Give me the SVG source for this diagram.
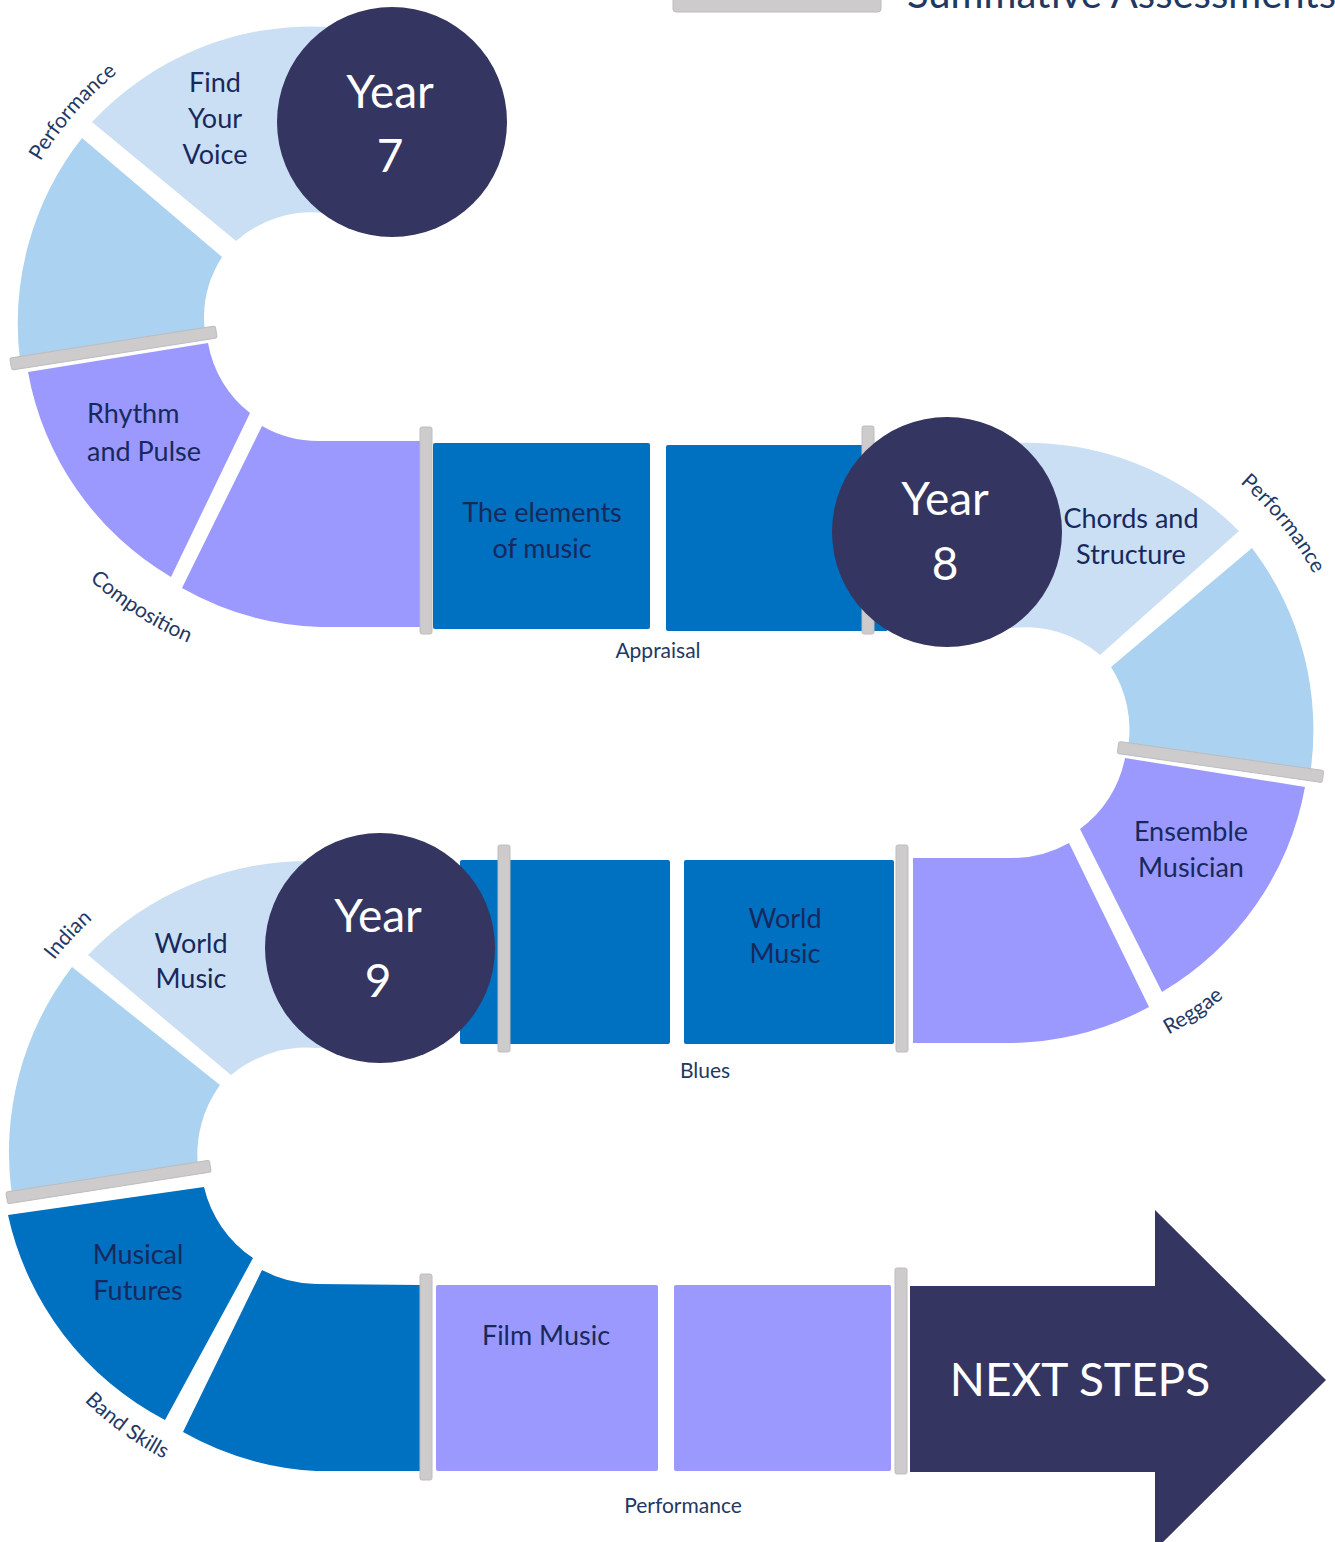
<svg xmlns="http://www.w3.org/2000/svg" width="1335" height="1542" viewBox="0 0 1335 1542">
<style>
.lt{fill:#CADFF4}.mb{fill:#ABD2F0}.pu{fill:#9B99FE}.db{fill:#0070C0}
.bar{fill:#CDCBCC;stroke:#BEBCBD;stroke-width:1}
.yr{fill:#343560}
text{font-family:Lato,"Open Sans","Liberation Sans",sans-serif}
.t{fill:#17295C;font-size:27px;text-anchor:middle}
.tl{fill:#17295C;font-size:27px;text-anchor:start}
.s{fill:#1F3864;font-size:21px;text-anchor:middle}
.w{fill:#FFFFFF;font-size:46px;text-anchor:middle}
</style>
<defs>
<path id="arcPerf7" d="M 4.7 248.4 A 325 325 0 0 1 198.3 25.7"/>
<path id="arcComp" d="M 69.9 560.2 A 342 342 0 0 0 214.3 652.3"/>
<path id="arcPerf8" d="M 1136 420 A 346 346 0 0 1 1353.7 688.9"/>
<path id="arcReg" d="M 1035.1 1073.2 A 331 331 0 0 0 1309.5 888.1"/>
<path id="arcInd" d="M -8.5 1091.1 A 333 333 0 0 1 218.6 847.6"/>
<path id="arcBand" d="M 14.5 1300.2 A 330 330 0 0 0 281.5 1494.2"/>
</defs>

<g id="legend">
<rect class="bar" x="673" y="-10" width="208" height="22" rx="3"/>
<text x="907" y="8" style="fill:#1F3864;font-size:40px">Summative Assessments</text>
</g>

<g id="track">
<!-- Year 7 turn -->
<g id="find-your-voice">
<path class="lt" d="M 340 27 L 330 27 A 300 300 0 0 0 92 122 L 236 241 A 114 114 0 0 1 324 213 L 334 214 Z"/>
<text class="t" x="215" y="92">Find</text>
<text class="t" x="215" y="128">Your</text>
<text class="t" x="215" y="164">Voice</text>
</g>
<g id="y7-mid">
<path class="mb" d="M 82 138 L 222 257 A 114 114 0 0 0 205 333 L 20 360 A 300 300 0 0 1 82 138 Z"/>
</g>
<g id="bar-y7a"><rect class="bar" x="-104" y="-6" width="208" height="12" rx="2" transform="translate(113.5 348) rotate(-8.9)"/></g>
<g id="rhythm-and-pulse">
<path class="pu" d="M 28 372 L 208 343 A 114 114 0 0 0 250 413 L 171 577 A 300 300 0 0 1 28 372 Z"/>
<text class="tl" x="87" y="423">Rhythm</text>
<text class="tl" x="87" y="461">and Pulse</text>
</g>
<g id="y7-purple-2">
<path class="pu" d="M 262 426 A 114 114 0 0 0 322 441 L 421 441 L 421 627 L 320 627 A 300 300 0 0 1 182 588 Z"/>
</g>
<g id="bar-y7b"><rect class="bar" x="420" y="427" width="12" height="207" rx="2"/></g>
<g id="elements-of-music">
<rect class="db" x="433" y="443" width="217" height="186" rx="2"/>
<text class="t" x="542" y="522">The elements</text>
<text class="t" x="542" y="558">of music</text>
</g>
<g id="y7-blue-2"><rect class="db" x="666" y="445" width="222" height="186" rx="2"/></g>
<g id="bar-y7c"><rect class="bar" x="862" y="426" width="12" height="208" rx="2"/></g>

<!-- Year 8 turn -->
<g id="chords-and-structure">
<path class="lt" d="M 1000 443 L 1012 443 A 300 300 0 0 1 1239 531 L 1100 655 A 115 115 0 0 0 1012 628 L 1000 628 Z"/>
<text class="t" x="1131" y="528">Chords and</text>
<text class="t" x="1131" y="564">Structure</text>
</g>
<g id="y8-mid">
<path class="mb" d="M 1252 548 A 300 300 0 0 1 1310 775 L 1128 748 A 115 115 0 0 0 1111 667 Z"/>
</g>
<g id="bar-y8a"><rect class="bar" x="-103.5" y="-6" width="207" height="12" rx="2" transform="translate(1220.5 762) rotate(8.05)"/></g>
<g id="ensemble-musician">
<path class="pu" d="M 1125 758 L 1305 787 A 300 300 0 0 1 1162 992 L 1080 829 A 115 115 0 0 0 1125 758 Z"/>
<text class="t" x="1191" y="841">Ensemble</text>
<text class="t" x="1191" y="877">Musician</text>
</g>
<g id="y8-purple-2">
<path class="pu" d="M 1069 843 L 1149 1007 A 300 300 0 0 1 1012 1043 L 913 1043 L 913 858 L 1012 858 A 115 115 0 0 0 1069 843 Z"/>
</g>
<g id="bar-y8b"><rect class="bar" x="896" y="845" width="12" height="207" rx="2"/></g>
<g id="world-music-rect">
<rect class="db" x="684" y="860" width="210" height="184" rx="2"/>
<text class="t" x="785" y="928">World</text>
<text class="t" x="785" y="963">Music</text>
</g>
<g id="y8-blue-1"><rect class="db" x="460" y="860" width="210" height="184" rx="2"/></g>
<g id="bar-y8c"><rect class="bar" x="498" y="845" width="12" height="207" rx="2"/></g>

<!-- Year 9 turn -->
<g id="world-music-band">
<path class="lt" d="M 340 860 L 316 861 A 305 305 0 0 0 88 955 L 231 1075 A 118 118 0 0 1 316 1048 L 340 1048 Z"/>
<text class="t" x="191" y="953">World</text>
<text class="t" x="191" y="988">Music</text>
</g>
<g id="y9-mid">
<path class="mb" d="M 72 967 L 220 1085 A 118 118 0 0 0 198 1167 L 12 1196 A 305 305 0 0 1 72 967 Z"/>
</g>
<g id="bar-y9a"><rect class="bar" x="-103" y="-6" width="206" height="12" rx="2" transform="translate(108.5 1182) rotate(-8.9)"/></g>
<g id="musical-futures">
<path class="db" d="M 8 1215 L 204 1187 A 118 118 0 0 0 253 1258 L 165 1420 A 305 305 0 0 1 8 1215 Z"/>
<text class="t" x="138" y="1264">Musical</text>
<text class="t" x="138" y="1300">Futures</text>
</g>
<g id="y9-blue-2">
<path class="db" d="M 262 1270 L 183 1432 A 305 305 0 0 0 316 1471 L 420 1471 L 420 1285 L 316 1284 A 118 118 0 0 1 262 1270 Z"/>
</g>
<g id="bar-y9b"><rect class="bar" x="420" y="1274" width="12" height="206" rx="2"/></g>
<g id="film-music">
<rect class="pu" x="436" y="1285" width="222" height="186" rx="2"/>
<text class="t" x="546" y="1345">Film Music</text>
</g>
<g id="y9-purple-2"><rect class="pu" x="674" y="1285" width="217" height="186" rx="2"/></g>
<g id="bar-y9c"><rect class="bar" x="895" y="1268" width="12" height="206" rx="2"/></g>
<g id="next-steps">
<path class="yr" d="M 910 1286 L 1155 1286 L 1155 1210 L 1326 1380 L 1155 1550 L 1155 1472 L 910 1472 Z"/>
<text class="w" x="1080" y="1396">NEXT STEPS</text>
</g>
</g>

<g id="year-7">
<circle class="yr" cx="392" cy="122" r="115"/>
<text class="w" x="390" y="108">Year</text>
<text class="w" x="390" y="172">7</text>
</g>
<g id="year-8">
<circle class="yr" cx="947" cy="532" r="115"/>
<text class="w" x="945" y="515">Year</text>
<text class="w" x="945" y="580">8</text>
</g>
<g id="year-9">
<circle class="yr" cx="380" cy="948" r="115"/>
<text class="w" x="378" y="932">Year</text>
<text class="w" x="378" y="997">9</text>
</g>

<g id="labels">
<text class="s"><textPath href="#arcPerf7" startOffset="50%">Performance</textPath></text>
<text class="s"><textPath href="#arcComp" startOffset="50%">Composition</textPath></text>
<text class="s" x="658" y="658">Appraisal</text>
<text class="s"><textPath href="#arcPerf8" startOffset="50%">Performance</textPath></text>
<text class="s"><textPath href="#arcReg" startOffset="50%">Reggae</textPath></text>
<text class="s" x="705" y="1078">Blues</text>
<text class="s"><textPath href="#arcInd" startOffset="50%">Indian</textPath></text>
<text class="s"><textPath href="#arcBand" startOffset="50%">Band Skills</textPath></text>
<text class="s" x="683" y="1513">Performance</text>
</g>
</svg>
